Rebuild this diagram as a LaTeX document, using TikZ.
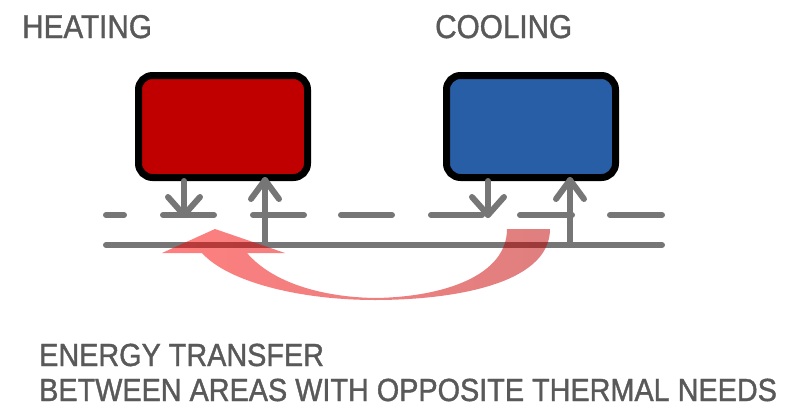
\documentclass[tikz,border=0pt]{standalone}
\usepackage{fontspec}
\setmainfont[FakeStretch=0.9,FakeBold=1.2]{Liberation Sans}
\usetikzlibrary{calc}
\definecolor{heatred}{HTML}{C00000}
\definecolor{coolblue}{HTML}{285EA5}
\definecolor{pipegray}{HTML}{767676}
\definecolor{txtgray}{HTML}{595959}
\definecolor{arcright}{HTML}{C00000}
\begin{document}
\begin{tikzpicture}[x=1pt,y=-1pt,
  unit/.style={draw=black,line width=7pt,rounded corners=14pt,minimum width=169pt,minimum height=102pt,inner sep=0pt},
  pipe/.style={draw=pipegray,line width=6pt,line cap=round,line join=round},
  title/.style={anchor=base west,inner sep=0pt,text=txtgray,font=\fontsize{33}{36}\selectfont},
  caption/.style={anchor=base west,inner sep=0pt,text=txtgray,font=\fontsize{32}{36}\selectfont}]
\useasboundingbox (0,0) rectangle (807,410);
% titles
\node[title] (theat) at (22,38) {HEATING};
\node[title] (tcool) at (435,38) {COOLING};
% pipes
\foreach \a/\b in {106/124,163/214,253/304,341/392,431/482,520/572,610/662}
  \draw[pipe] (\a,215) -- (\b,215);
\coordinate (sL) at (106,245);
\coordinate (sR) at (662,245);
\draw[pipe] (sL) -- (sR);
% units
\node[unit,fill=heatred] (heat) at (223,126.5) {};
\node[unit,fill=coolblue] (cool) at (531,126.5) {};
% arrows
\coordinate (hd) at (184,215);
\coordinate (hu) at (265,180);
\coordinate (cd) at (488,215);
\coordinate (cu) at (570,180);
\draw[pipe] (heat.south -| hd) -- (hd);
\draw[pipe] ($(hd)+(-16,-18)$) -- (hd) -- ($(hd)+(16,-18)$);
\draw[pipe] (sL -| hu) -- (hu);
\draw[pipe] ($(hu)+(-14,19)$) -- (hu) -- ($(hu)+(14,19)$);
\draw[pipe] (cool.south -| cd) -- (cd);
\draw[pipe] ($(cd)+(-16,-18)$) -- (cd) -- ($(cd)+(16,-18)$);
\draw[pipe] (sL -| cu) -- (cu);
\draw[pipe] ($(cu)+(-14,19)$) -- (cu) -- ($(cu)+(14,19)$);
% curved transfer arrow
\shade[left color=red,right color=arcright,fill opacity=0.5,draw=none]
  (550,229) .. controls (550,285) and (450,300) .. (375,300)
  .. controls (300,300) and (228,282) .. (202,253)
  -- (162,253) -- (215,229) -- (285,253) -- (247,253)
  .. controls (272,282) and (320,297) .. (375,298)
  .. controls (445,297) and (507,275) .. (507,229) -- cycle;
% caption
\node[caption] (c1) at (39,366) {ENERGY TRANSFER};
\node[caption] (c2) at (39,401) {BETWEEN AREAS WITH OPPOSITE THERMAL NEEDS};
\end{tikzpicture}
\end{document}
